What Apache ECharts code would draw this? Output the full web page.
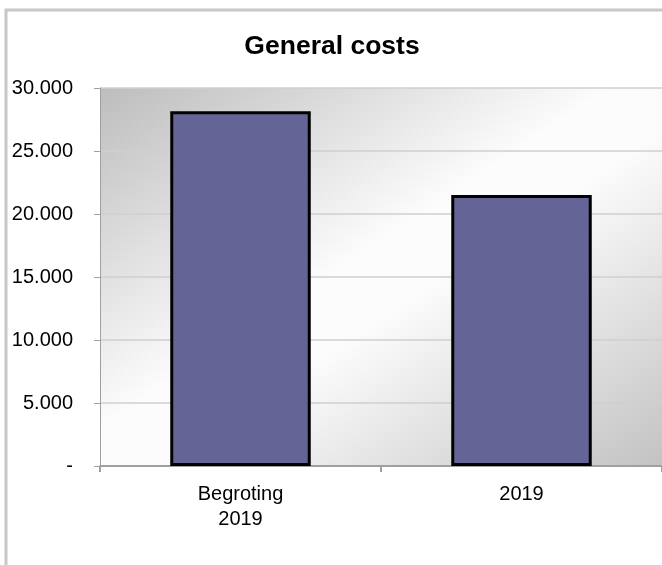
<!DOCTYPE html>
<html>
<head>
<meta charset="utf-8">
<script src="https://cdn.jsdelivr.net/npm/echarts@6/dist/echarts.min.js"></script>
<style>
html,body{margin:0;padding:0;background:#fff;}
#chart{width:662px;height:565px;}
</style>
</head>
<body>
<div id="chart"></div>
<script>
const categories = ['Begroting\n2019', '2019'];
const values = [28150, 21500];
const yTickLabels = {0: '-', 5000: '5.000', 10000: '10.000', 15000: '15.000', 20000: '20.000', 25000: '25.000', 30000: '30.000'};

const gLeft = 100, gTop = 88, gW = 568, gH = 378;
const k = (gW * gH * 2) / (gW * gW + gH * gH);

const chart = echarts.init(document.getElementById('chart'), null, {renderer: 'canvas'});
chart.setOption({
  animation: false,
  backgroundColor: '#ffffff',
  title: {
    text: 'General costs',
    left: 327,
    textAlign: 'center',
    top: 28,
    textStyle: {fontFamily: 'Liberation Sans, Arial', fontWeight: 'bold', fontSize: 26.5, color: '#000'}
  },
  graphic: [{
    type: 'rect',
    shape: {x: 6, y: 10, width: 720, height: 620},
    style: {fill: 'none', stroke: '#c8c8c8', lineWidth: 3},
    z: 100
  }],
  grid: {
    left: gLeft, top: gTop, right: 662 - gLeft - gW, bottom: 565 - gTop - gH,
    show: true,
    borderWidth: 0,
    backgroundColor: {
      type: 'linear', global: true,
      x: gLeft, y: gTop, x2: gLeft + gH * k, y2: gTop + gW * k,
      colorStops: [
        {offset: 0, color: '#bdbdbd'},
        {offset: 0.45, color: '#fcfcfc'},
        {offset: 0.55, color: '#fcfcfc'},
        {offset: 1, color: '#c2c2c2'}
      ]
    }
  },
  xAxis: {
    type: 'category',
    data: categories,
    axisLine: {show: true, lineStyle: {color: '#a0a0a0', width: 2}},
    axisTick: {show: true, length: 6, lineStyle: {color: '#a0a0a0', width: 2}},
    axisLabel: {fontFamily: 'Liberation Sans, Arial', fontSize: 20, color: '#000', margin: 16, lineHeight: 25}
  },
  yAxis: {
    type: 'value',
    min: 0, max: 30000, interval: 5000,
    axisLine: {show: true, lineStyle: {color: '#a0a0a0', width: 1}},
    axisTick: {show: true, length: 6, lineStyle: {color: '#a0a0a0'}},
    splitLine: {show: true, lineStyle: {color: '#cfcfcf', width: 1.5}},
    axisLabel: {
      fontFamily: 'Liberation Sans, Arial', fontSize: 20, color: '#000', margin: 27,
      formatter: v => yTickLabels[v] !== undefined ? yTickLabels[v] : ''
    }
  },
  series: [{
    type: 'bar',
    data: values,
    barWidth: '50%',
    itemStyle: {color: '#646496', borderColor: '#000', borderWidth: 3}
  }]
});
</script>
</body>
</html>
